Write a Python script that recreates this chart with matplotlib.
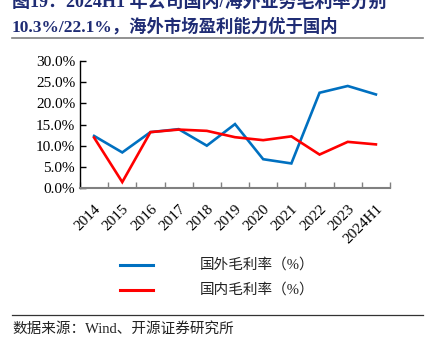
import matplotlib
matplotlib.use("Agg")
import matplotlib.pyplot as plt
from matplotlib.lines import Line2D
from matplotlib.ticker import PercentFormatter

# 年份与毛利率 (%)
years = ["2014", "2015", "2016", "2017", "2018", "2019", "2020",
         "2021", "2022", "2023", "2024H1"]
overseas = [12.3, 8.4, 13.2, 13.9, 10.0, 15.1, 6.8, 5.8, 22.5, 24.1, 22.1]
domestic = [11.9, 1.4, 13.2, 13.8, 13.5, 12.0, 11.3, 12.2, 7.9, 10.9, 10.3]
legend_labels = ["国外毛利率（%）", "国内毛利率（%）"]
title_lines = ["图19：2024H1 年公司国内/海外业务毛利率分别",
               "10.3%/22.1%，海外市场盈利能力优于国内"]
source_text = "数据来源：Wind、开源证券研究所"

W, H = 435, 347
serif_cjk = ["Liberation Serif", "Noto Sans CJK SC"]
blue = "#0070C0"
red = "#FF0000"
navy = "#1F2C74"

fig = plt.figure(figsize=(W / 100, H / 100), dpi=100)
ax = fig.add_axes([80 / W, (H - 188) / H, 310 / W, 127 / H])

x = list(range(len(years)))
ax.plot(x, overseas, color=blue, linewidth=1.9, solid_joinstyle="miter")
ax.plot(x, domestic, color=red, linewidth=1.9, solid_joinstyle="miter")

ax.set_xlim(-0.5, len(years) - 0.5)
ax.set_ylim(0, 30)
ax.set_yticks([0, 5, 10, 15, 20, 25, 30])
ax.yaxis.set_major_formatter(PercentFormatter(decimals=1))

# 刻度线在类别分界处, 标签在类别中心
ax.set_xticks([i - 0.5 for i in range(len(years) + 1)])
ax.set_xticklabels([])
ax.set_xticks(x, minor=True)
ax.set_xticklabels(years, minor=True, rotation=45, ha="right",
                   rotation_mode="anchor")
ax.tick_params(axis="x", which="major", direction="in", length=4,
               color="#808080", width=1)
ax.tick_params(axis="x", which="minor", length=0, pad=10)
ax.tick_params(axis="y", direction="in", length=4, width=1, color="black")
for lab in ax.get_xticklabels(minor=True) + ax.get_yticklabels():
    lab.set_fontfamily("Liberation Serif")
    lab.set_fontsize(11)

for s in ["top", "right"]:
    ax.spines[s].set_visible(False)
ax.spines["bottom"].set_color("#808080")
ax.spines["bottom"].set_linewidth(1.5)
ax.spines["left"].set_color("black")
ax.spines["left"].set_linewidth(1)

# 标题 (第一行上沿被裁掉)
fig.text(12 / W, 1 - 8 / H, title_lines[0], family=serif_cjk, fontsize=13,
         fontweight="bold", color=navy, va="baseline")
fig.text(12 / W, 1 - 32 / H, title_lines[1], family=serif_cjk, fontsize=12.5,
         fontweight="bold", color=navy, va="baseline")

# 分隔线
fig.add_artist(Line2D([12 / W, 423 / W], [1 - 38 / H, 1 - 38 / H],
                      color="#7f7f7f", linewidth=1.2))
fig.add_artist(Line2D([12 / W, 423 / W], [1 - 315 / H, 1 - 315 / H],
                      color="#333333", linewidth=0.9))

# 图例
for yy, c, lab in zip([265, 290], [blue, red], legend_labels):
    fig.add_artist(Line2D([120 / W, 153 / W], [1 - yy / H, 1 - yy / H],
                          color=c, linewidth=2.2))
    fig.text(200 / W, 1 - yy / H, lab, family=serif_cjk, fontsize=10.5,
             color="#222222", va="center")

fig.text(12 / W, 1 - 333 / H, source_text, family=serif_cjk, fontsize=10.5,
         color="#222222", va="baseline")

fig.savefig("out.png", dpi=100)
